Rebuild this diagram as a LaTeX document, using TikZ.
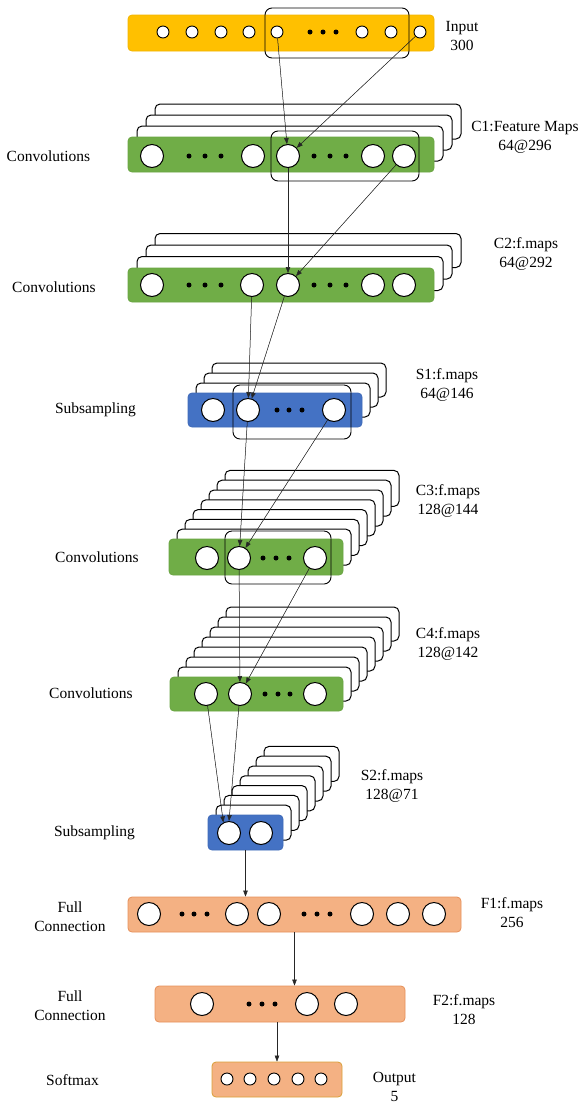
\documentclass[tikz,border=0pt]{standalone}
\usepackage{fontspec}
\setmainfont{Liberation Serif}
\usetikzlibrary{arrows.meta}
\definecolor{inyel}{HTML}{FFC000}
\definecolor{inyeld}{HTML}{F2B400}
\definecolor{cgreen}{HTML}{70AD47}
\definecolor{cgreend}{HTML}{6AA543}
\definecolor{sblue}{HTML}{4472C4}
\definecolor{sblued}{HTML}{3F6AB8}
\definecolor{forange}{HTML}{F4B183}
\definecolor{forangeD}{HTML}{E6905A}
\definecolor{outD}{HTML}{D9A038}
\tikzset{
  bar/.style={rectangle, rounded corners=4pt, inner sep=0pt, line width=0.8pt},
  big/.style={circle, draw=black, fill=white, minimum size=23pt, inner sep=0pt, line width=1pt},
  small/.style={circle, draw=black, fill=white, minimum size=12pt, inner sep=0pt, line width=0.9pt},
  dotn/.style={circle, fill=black, minimum size=5pt, inner sep=0pt},
  sheet/.style={draw=black, fill=white, rounded corners=5pt, line width=1pt},
  win/.style={draw=black, rounded corners=7pt, line width=0.9pt},
  arr/.style={-{Triangle[length=6pt,width=4.5pt]}, line width=0.5pt, draw=black!85, fill=black},
  lbl/.style={font=\fontsize{15.5}{19}\selectfont, align=center, inner sep=0pt}
}
\begin{document}
\begin{tikzpicture}[x=1pt,y=-1pt]
\useasboundingbox (0,0) rectangle (587,1104);

% ---------- Input ----------
\node[bar, fill=inyel, draw=inyeld, minimum width=306pt, minimum height=36pt] (inbar) at (281,33) {};
\foreach \n/\x in {1/163,2/192,3/221,4/249,5/277,6/362,7/391,8/420}
  \node[small] (in\n) at (\x,32) {};
\foreach \n/\x in {1/310,2/323,3/336}
  \node[dotn] (ind\n) at (\x,32) {};
\node[win, minimum width=144pt, minimum height=50pt] (inwin) at (337,33) {};
\node[lbl] (linput) at (462,36) {Input\\300};

% ---------- C1 ----------
\foreach \k in {3,2,1}
  \draw[sheet] ({128+9*\k},{137-11*\k}) rectangle ++(306,35);
\node[bar, fill=cgreen, draw=cgreend, minimum width=306pt, minimum height=35pt] (c1bar) at (281,154.5) {};
\foreach \n/\x in {a/152,b/253,c/288,d/373,e/404}
  \node[big] (c1\n) at (\x,156) {};
\foreach \n/\x in {1/189,2/205,3/221,4/314,5/330,6/346}
  \node[dotn] (c1d\n) at (\x,156) {};
\node[win, minimum width=148pt, minimum height=50pt] (c1win) at (345,156) {};
\node[lbl] (lconv1) at (48.5,156) {Convolutions};
\node[lbl] (lc1) at (525,137) {C1:Feature Maps\\64@296};

% ---------- C2 ----------
\foreach \k in {3,2,1}
  \draw[sheet] ({128+9*\k},{268-11.5*\k}) rectangle ++(306,34);
\node[bar, fill=cgreen, draw=cgreend, minimum width=306pt, minimum height=34pt] (c2bar) at (281,285) {};
\foreach \n/\x in {a/152,b/252,c/288,d/373,e/404}
  \node[big] (c2\n) at (\x,285) {};
\foreach \n/\x in {1/189,2/205,3/221,4/314,5/330,6/346}
  \node[dotn] (c2d\n) at (\x,285) {};
\node[lbl] (lconv2) at (54,287) {Convolutions};
\node[lbl] (lc2) at (526,254) {C2:f.maps\\64@292};

% ---------- S1 ----------
\foreach \k in {3,2,1}
  \draw[sheet] ({188+8*\k},{393-10*\k}) rectangle ++(174,34);
\node[bar, fill=sblue, draw=sblued, minimum width=174pt, minimum height=34pt] (s1bar) at (275,410) {};
\foreach \n/\x in {a/213,b/248,c/334}
  \node[big] (s1\n) at (\x,410) {};
\foreach \n/\x in {1/277,2/289,3/302}
  \node[dotn] (s1d\n) at (\x,410) {};
\node[win, minimum width=118pt, minimum height=54pt] (s1win) at (292,412) {};
\node[lbl] (lsub1) at (95.5,410) {Subsampling};
\node[lbl] (ls1) at (447,385.5) {S1:f.maps\\64@146};

% ---------- C3 ----------
\foreach \k in {7,6,...,1}
  \draw[sheet] ({169+8*\k},{539-9.8*\k}) rectangle ++(174,36);
\node[bar, fill=cgreen, draw=cgreend, minimum width=174pt, minimum height=36pt] (c3bar) at (256,557) {};
\foreach \n/\x in {a/207,b/239,c/315}
  \node[big] (c3\n) at (\x,558) {};
\foreach \n/\x in {1/263,2/276,3/289}
  \node[dotn] (c3d\n) at (\x,558) {};
\node[win, minimum width=106pt, minimum height=53pt] (c3win) at (278,557.5) {};
\node[lbl] (lconv3) at (97,557) {Convolutions};
\node[lbl] (lc3) at (448,501.5) {C3:f.maps\\128@144};

% ---------- C4 ----------
\foreach \k in {7,6,...,1}
  \draw[sheet] ({170+8*\k},{677-10*\k}) rectangle ++(173,34);
\node[bar, fill=cgreen, draw=cgreend, minimum width=173pt, minimum height=34pt] (c4bar) at (256.5,694) {};
\foreach \n/\x in {a/206,b/240,c/315}
  \node[big] (c4\n) at (\x,694) {};
\foreach \n/\x in {1/265,2/278,3/290}
  \node[dotn] (c4d\n) at (\x,694) {};
\node[lbl] (lconv4) at (91,693) {Convolutions};
\node[lbl] (lc4) at (448,644) {C4:f.maps\\128@142};

% ---------- S2 ----------
\foreach \k in {7,6,...,1}
  \draw[sheet] ({208+8*\k},{815-9.8*\k}) rectangle ++(75,35);
\node[bar, fill=sblue, draw=sblued, minimum width=75pt, minimum height=35pt] (s2bar) at (245.5,832.5) {};
\foreach \n/\x in {a/229,b/261}
  \node[big] (s2\n) at (\x,833) {};
\node[lbl] (lsub2) at (94.5,833) {Subsampling};
\node[lbl] (ls2) at (392,786.5) {S2:f.maps\\128@71};

% ---------- F1 ----------
\node[bar, fill=forange, draw=forangeD, minimum width=333pt, minimum height=35pt] (f1bar) at (294.5,914.5) {};
\foreach \n/\x in {a/149,b/237,c/269,d/362,e/398,f/434}
  \node[big] (f1\n) at (\x,914) {};
\foreach \n/\x in {1/182,2/194,3/207,4/304,5/317,6/330}
  \node[dotn] (f1d\n) at (\x,914) {};
\node[lbl] (lfull1) at (70,916.5) {Full\\Connection};
\node[lbl] (lf1) at (512,913) {F1:f.maps\\256};

% ---------- F2 ----------
\node[bar, fill=forange, draw=forangeD, minimum width=250pt, minimum height=36pt] (f2bar) at (280,1004) {};
\foreach \n/\x in {a/202,b/307,c/346}
  \node[big] (f2\n) at (\x,1004) {};
\foreach \n/\x in {1/249,2/262,3/275}
  \node[dotn] (f2d\n) at (\x,1004) {};
\node[lbl] (lfull2) at (70,1005.5) {Full\\Connection};
\node[lbl] (lf2) at (464,1009.5) {F2:f.maps\\128};

% ---------- Output ----------
\node[bar, fill=forange, draw=outD, minimum width=130pt, minimum height=35pt] (outbar) at (277,1079.5) {};
\foreach \n/\x in {1/227,2/250,3/274,4/298,5/321}
  \node[small] (o\n) at (\x,1079) {};
\node[lbl] (lsoft) at (72.5,1080) {Softmax};
\node[lbl] (lout) at (394.5,1087) {Output\\5};

% ---------- connectors ----------
\draw[arr] (in5) -- (c1c);
\draw[arr] (in8) -- (c1c);
\draw[arr] (c1c) -- (c2c);
\draw[arr] (c1e) -- (c2c);
\draw[arr] (c2b) -- (s1b);
\draw[arr] (c2c) -- (s1b);
\draw[arr] (s1b) -- (c3b);
\draw[arr] (s1c) -- (c3b);
\draw[arr] (c3b) -- (c4b);
\draw[arr] (c3c) -- (c4b);
\draw[arr] (c4a) -- (s2a.118);
\draw[arr] (c4b) -- (s2a.north);
\draw[arr] (s2bar.south) -- (s2bar.south |- f1bar.north);
\draw[arr] (f1bar.south) -- (f1bar.south |- f2bar.north);
\draw[arr] (outbar.north |- f2bar.south) -- (outbar.north);
\end{tikzpicture}
\end{document}
